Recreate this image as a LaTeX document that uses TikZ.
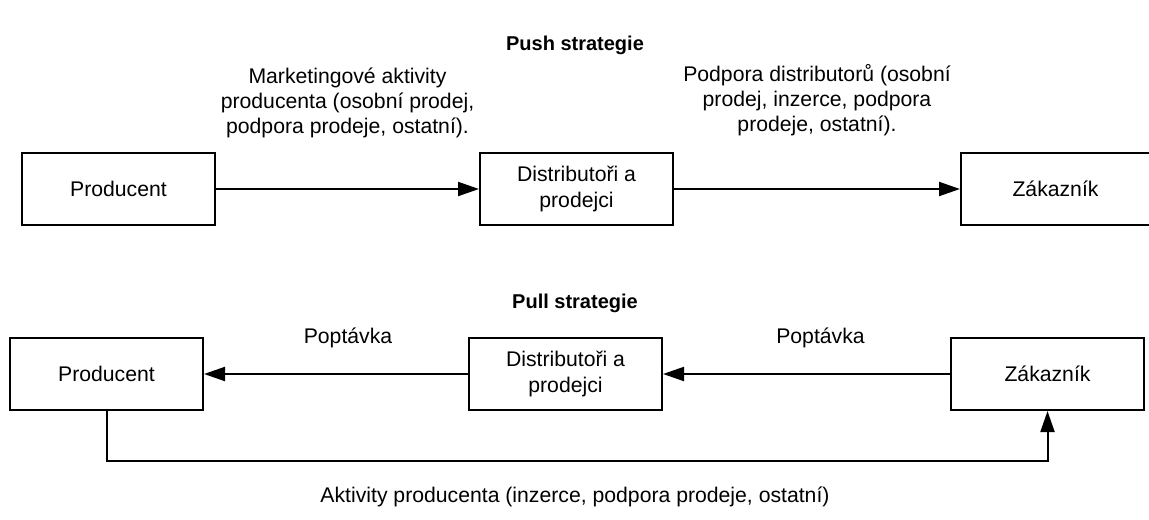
\documentclass[tikz,border=0pt]{standalone}
\usepackage{fontspec}
\setmainfont{Liberation Sans}
\usepackage{tikz}
\usetikzlibrary{positioning,arrows.meta}

\begin{document}
\begin{tikzpicture}[
  x=0.5pt, y=-0.5pt,
  box/.style={draw, line width=1pt, minimum width=96.5pt, minimum height=36pt,
    align=center, inner sep=2pt},
  lbl/.style={align=center, inner sep=0pt},
  ttl/.style={font=\bfseries, inner sep=0pt},
  >={Triangle[length=10.5pt, width=7pt]}, line width=1pt,
  font=\fontsize{10.6}{12.6}\selectfont, node distance=131.5pt
]
\useasboundingbox (0,0) rectangle (1149,519);

% push strategie
\node[ttl] (pushTitle) at (575,45) {Push strategie};
\node[box] (prodA) at (118.5,189) {Producent};
\node[box, right=of prodA] (distA) {Distributoři a\\prodejci};
\node[box, right=143pt of distA, minimum width=94.5pt] (zakA) {Zákazník};

\draw[->] (prodA) -- node[lbl, above=25pt] {Marketingové aktivity\\producenta (osobní prodej,\\podpora prodeje, ostatní).} (distA);
\draw[->] (distA) -- node[lbl, above=26pt] {Podpora distributorů (osobní\\prodej, inzerce, podpora\\prodeje, ostatní).} (zakA);

% pull strategie
\node[ttl] (pullTitle) at (575,303) {Pull strategie};
\node[box] (prodB) at (106.5,374) {Producent};
\node[box, right=132pt of prodB] (distB) {Distributoři a\\prodejci};
\node[box, right=143.5pt of distB] (zakB) {Zákazník};

\draw[->] (distB) -- node[lbl, above=12.5pt, xshift=6pt] {Poptávka} (prodB);
\draw[->] (zakB) -- node[lbl, above=12.5pt, xshift=7pt] {Poptávka} (distB);
\draw[->] (prodB.south) -- ++(0,50) -| (zakB.south);

\node[lbl] (aktivity) at (575,497) {Aktivity producenta (inzerce, podpora prodeje, ostatní)};
\end{tikzpicture}
\end{document}
